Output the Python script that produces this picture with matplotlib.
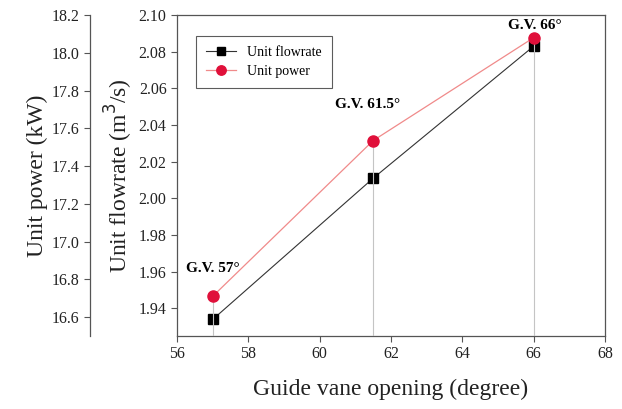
import numpy as np
import matplotlib.pyplot as plt

plt.rcParams['font.family'] = ['Liberation Serif', 'DejaVu Serif']

# datos
apertura = [57, 61.5, 66]
caudal = [1.934, 2.011, 2.083]
potencia = [16.71, 17.535, 18.08]
etiquetas = ["G.V. 57°", "G.V. 61.5°", "G.V. 66°"]

fig = plt.figure(figsize=(6.22, 4.09), dpi=100)
ax = fig.add_axes([177/622, (409-336)/409, (605-177)/622, (336-15)/409])
ax2 = ax.twinx()

gris = '#555555'

# lineas verticales de referencia
for xv, yv in zip(apertura, potencia):
    ax2.vlines(xv, 16.5, yv, color='#c4c4c4', lw=0.8, zorder=1)

l1, = ax.plot(apertura, caudal, color='#333333', lw=0.8, marker='s',
              markersize=7, markerfacecolor='black', markeredgecolor='black',
              label='Unit flowrate', zorder=3)
l2, = ax2.plot(apertura, potencia, color='#f08a8a', lw=0.9, marker='o',
               markersize=8, markerfacecolor='#e0103a', markeredgecolor='#e0103a',
               label='Unit power', zorder=3)

ax.set_xlim(56, 68)
ax.set_ylim(1.925, 2.10)
ax.set_xticks(np.arange(56, 69, 2))
ax.set_yticks(np.arange(1.94, 2.101, 0.02))
ax.set_yticklabels([f"{v:.2f}" for v in np.arange(1.94, 2.101, 0.02)])

ax2.set_ylim(16.5, 18.2)
ax2.set_yticks(np.arange(16.6, 18.21, 0.2))
ax2.set_yticklabels([f"{v:.1f}" for v in np.arange(16.6, 18.21, 0.2)])
ax2.spines['left'].set_position(('axes', -(177-90)/428))
ax2.spines['left'].set_visible(True)
ax2.spines['right'].set_visible(False)
ax2.spines['top'].set_visible(False)
ax2.spines['bottom'].set_visible(False)
ax2.yaxis.set_ticks_position('left')
ax2.yaxis.set_label_position('left')

for a in (ax, ax2):
    for s in a.spines.values():
        s.set_color(gris)
        s.set_linewidth(0.9)
    a.tick_params(direction='out', colors=gris, labelcolor='#222222',
                  labelsize=11.5, length=4, width=0.8)

ax.set_xlabel("Guide vane opening (degree)", fontsize=17, color='#222222', labelpad=12)
ax.set_ylabel("Unit flowrate (m$^3$/s)", fontsize=17, color='#222222', labelpad=3)
ax2.set_ylabel("Unit power (kW)", fontsize=17, color='#222222', labelpad=3)

# anotaciones
ax.text(57.0, 1.962, etiquetas[0], fontsize=11, fontweight='bold', ha='center', va='center')
ax.text(61.34, 2.051, etiquetas[1], fontsize=11, fontweight='bold', ha='center', va='center')
ax.text(66.03, 2.0945, etiquetas[2], fontsize=11, fontweight='bold', ha='center', va='center')

leg = ax.legend(handles=[l1, l2], loc='upper left', bbox_to_anchor=(0.044, 0.935),
                borderaxespad=0, fontsize=10, frameon=True, fancybox=False,
                edgecolor='#333333', handlelength=2.2, borderpad=0.7,
                labelspacing=0.45, markerscale=0.85)
leg.get_frame().set_linewidth(0.8)

fig.savefig("out.png", dpi=100)
